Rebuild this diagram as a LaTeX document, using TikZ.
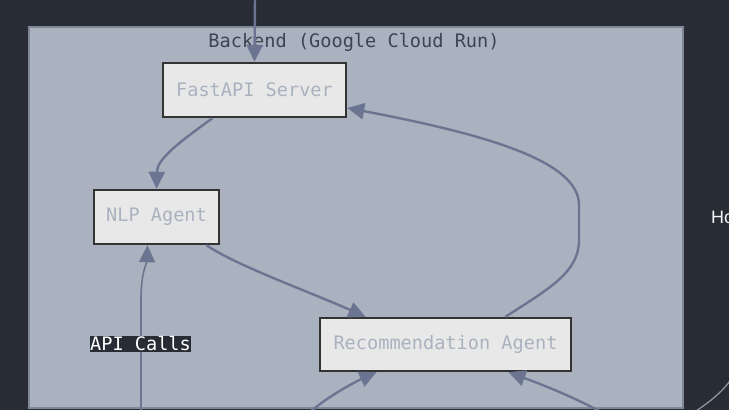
\documentclass[tikz,border=0pt]{standalone}
\usepackage{fontspec}
\setmonofont{DejaVu Sans Mono}
\setsansfont{Liberation Sans}
\usetikzlibrary{arrows.meta,positioning}
\definecolor{bgdark}{RGB}{40,44,52}
\definecolor{clusterfill}{RGB}{171,178,191}
\definecolor{clusterline}{RGB}{128,135,150}
\definecolor{titletext}{RGB}{62,68,81}
\definecolor{nodefill}{RGB}{232,232,232}
\definecolor{nodeline}{RGB}{51,51,51}
\definecolor{nodetext}{RGB}{171,178,191}
\definecolor{edgeblue}{RGB}{107,117,145}
\definecolor{faintline}{RGB}{140,146,160}
\tikzset{
  agent/.style={draw=nodeline, line width=2.4pt, fill=nodefill, text=nodetext, inner sep=0pt,
    font=\ttfamily\fontsize{18.6}{20}\selectfont},
  cluster/.style={draw=clusterline, line width=1.2pt, fill=clusterfill, inner sep=0pt},
  lbl/.style={fill=bgdark, text=white, inner sep=0.5pt, font=\ttfamily\fontsize{18.6}{20}\selectfont},
  link/.style={-{Triangle[length=17pt,width=16pt,fill=edgeblue]}, line width=2.4pt, draw=edgeblue},
  thinlink/.style={link, line width=1.6pt},
}
\begin{document}
\begin{tikzpicture}[x=1pt,y=-1pt]
\useasboundingbox (0,0) rectangle (729,410);
\fill[bgdark] (0,0) rectangle (729,410);
\begin{scope}
\clip (0,0) rectangle (729,410);
% backend cluster
\node[cluster, minimum width=654pt, minimum height=381pt] (backend) at (356,217.5) {};
\node[text=titletext, font=\ttfamily\fontsize{18.6}{20}\selectfont] (backendtitle) at (354,42) {Backend (Google Cloud Run)};
\node[agent, minimum width=183pt, minimum height=54pt] (fastapi) at (254.5,90) {FastAPI Server};
\node[agent, minimum width=125pt, minimum height=54pt] (nlp) at (156.5,217) {NLP Agent};
\node[agent, minimum width=251pt, minimum height=53pt] (rec) at (445.5,344.5) {Recommendation Agent};
% outside
\node[anchor=west, text=white!85!clusterfill, inner sep=0pt, font=\sffamily\fontsize{18}{20}\selectfont] (hostlbl) at (711,217) {Ho};
\draw[faintline, line width=1.3pt] (696,411) .. controls (708,403) and (720,394) .. (730,381);
\coordinate (topin) at (255,-2);
\coordinate (apiin) at (141,412);
\coordinate (recinl) at (310,412);
\coordinate (recinr) at (601,412);
% edges
\draw[link] (topin) -- (fastapi.north);
\draw[link] ([xshift=-42pt]fastapi.south) .. controls (175,145) and (157,160) .. (nlp.north);
\draw[link] ([xshift=50pt]nlp.south) .. controls (235,265) and (310,292) .. ([xshift=-80pt]rec.north);
\draw[link] ([xshift=60pt]rec.north) .. controls (550,288) and (579,272) .. (579,240) -- (579,205)
  .. controls (579,162) and (490,135) .. ([yshift=-18pt]fastapi.east);
\draw[thinlink] (apiin) -- (141,300) .. controls (141,272) and (147,262) .. ([xshift=-9pt]nlp.south);
\draw[link] (recinl) .. controls (330,395) and (355,382) .. ([xshift=-69pt]rec.south);
\draw[link] (recinr) .. controls (570,395) and (535,382) .. ([xshift=63pt]rec.south);
\node[lbl] (apilbl) at (140.5,344) {API Calls};
\end{scope}
\end{tikzpicture}
\end{document}
